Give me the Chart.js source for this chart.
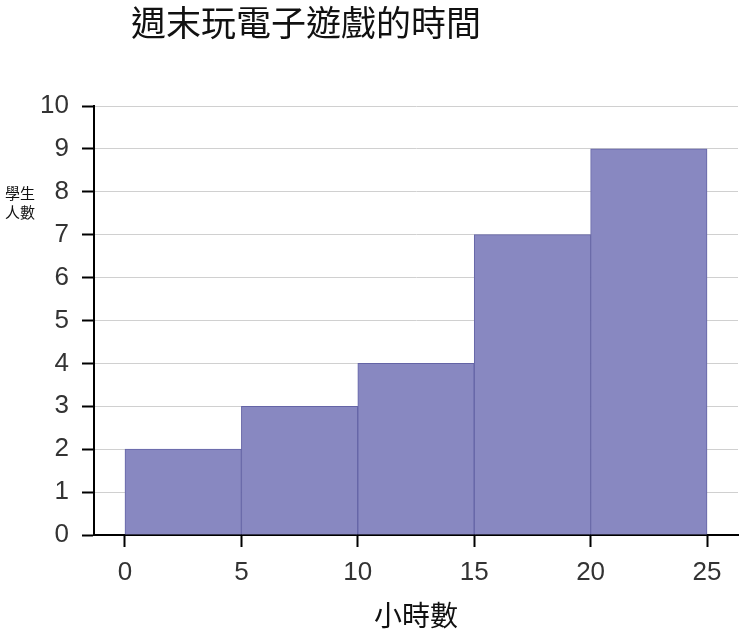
<!DOCTYPE html>
<html>
<head>
<meta charset="utf-8">
<script src="https://cdn.jsdelivr.net/npm/chart.js@4.4.1/dist/chart.umd.min.js"></script>
<style>
html,body{margin:0;padding:0;background:#fff;}
#wrap{width:745px;height:637px;}
</style>
</head>
<body>
<div id="wrap"><canvas id="c" width="745" height="637"></canvas></div>
<script>
const chartTitle = "週末玩電子遊戲的時間";
const yTitleLines = ["學生", "人數"];
const xTitle = "小時數";
const binEdges = [0, 5, 10, 15, 20, 25];
const counts = [2, 3, 4, 7, 9];
const xTickValues = [0, 5, 10, 15, 20, 25];
const yTickValues = [0, 1, 2, 3, 4, 5, 6, 7, 8, 9, 10];

const barData = counts.map((c, i) => ({ x: (binEdges[i] + binEdges[i + 1]) / 2, y: c }));

const cjk = '"Noto Sans CJK TC", "Noto Sans CJK SC", sans-serif';
const latin = '"Liberation Sans", Arial, sans-serif';

const textPlugin = {
  id: 'textPlugin',
  afterDraw(chart) {
    const ctx = chart.ctx;
    ctx.save();
    ctx.fillStyle = '#111';
    ctx.textBaseline = 'middle';
    ctx.textAlign = 'left';
    ctx.font = '35px ' + cjk;
    ctx.fillText(chartTitle, 131, 23);
    ctx.font = '15px ' + cjk;
    ctx.fillText(yTitleLines[0], 5, 193);
    ctx.fillText(yTitleLines[1], 5, 212);
    ctx.restore();
  }
};

new Chart(document.getElementById('c'), {
  type: 'bar',
  data: {
    datasets: [{
      data: barData,
      backgroundColor: '#8888c1',
      borderColor: '#6464a6',
      borderWidth: 1,
      barPercentage: 1,
      categoryPercentage: 1
    }]
  },
  options: {
    responsive: false,
    animation: false,
    devicePixelRatio: 1,
    layout: { padding: { left: 0, top: 106, right: 7, bottom: 0 } },
    plugins: {
      legend: { display: false },
      title: { display: false },
      tooltip: { enabled: false }
    },
    scales: {
      x: {
        type: 'linear',
        offset: false,
        min: -1.33,
        max: 26.33,
        afterBuildTicks: (s) => { s.ticks = xTickValues.map(v => ({ value: v })); },
        afterFit: (s) => { s.height = 102; },
        grid: { offset: false, drawOnChartArea: false, drawTicks: true, tickLength: 12, tickColor: '#000', tickWidth: 2 },
        border: { color: '#000', width: 2 },
        ticks: { color: '#333', font: { family: latin, size: 26 }, padding: 10, maxRotation: 0 },
        title: { display: true, text: xTitle, color: '#111', font: { family: cjk, size: 28, lineHeight: 1 }, padding: { top: 8, bottom: 8 } }
      },
      y: {
        min: 0,
        max: 10,
        afterBuildTicks: (s) => { s.ticks = yTickValues.map(v => ({ value: v })); },
        afterFit: (s) => { s.width = 94; },
        grid: { color: '#d0d0d0', lineWidth: 1, drawTicks: true, tickLength: 12, tickColor: '#000', tickWidth: 2 },
        border: { color: '#000', width: 2 },
        ticks: { color: '#333', font: { family: latin, size: 26 }, padding: 13 }
      }
    }
  },
  plugins: [textPlugin]
});
</script>
</body>
</html>
